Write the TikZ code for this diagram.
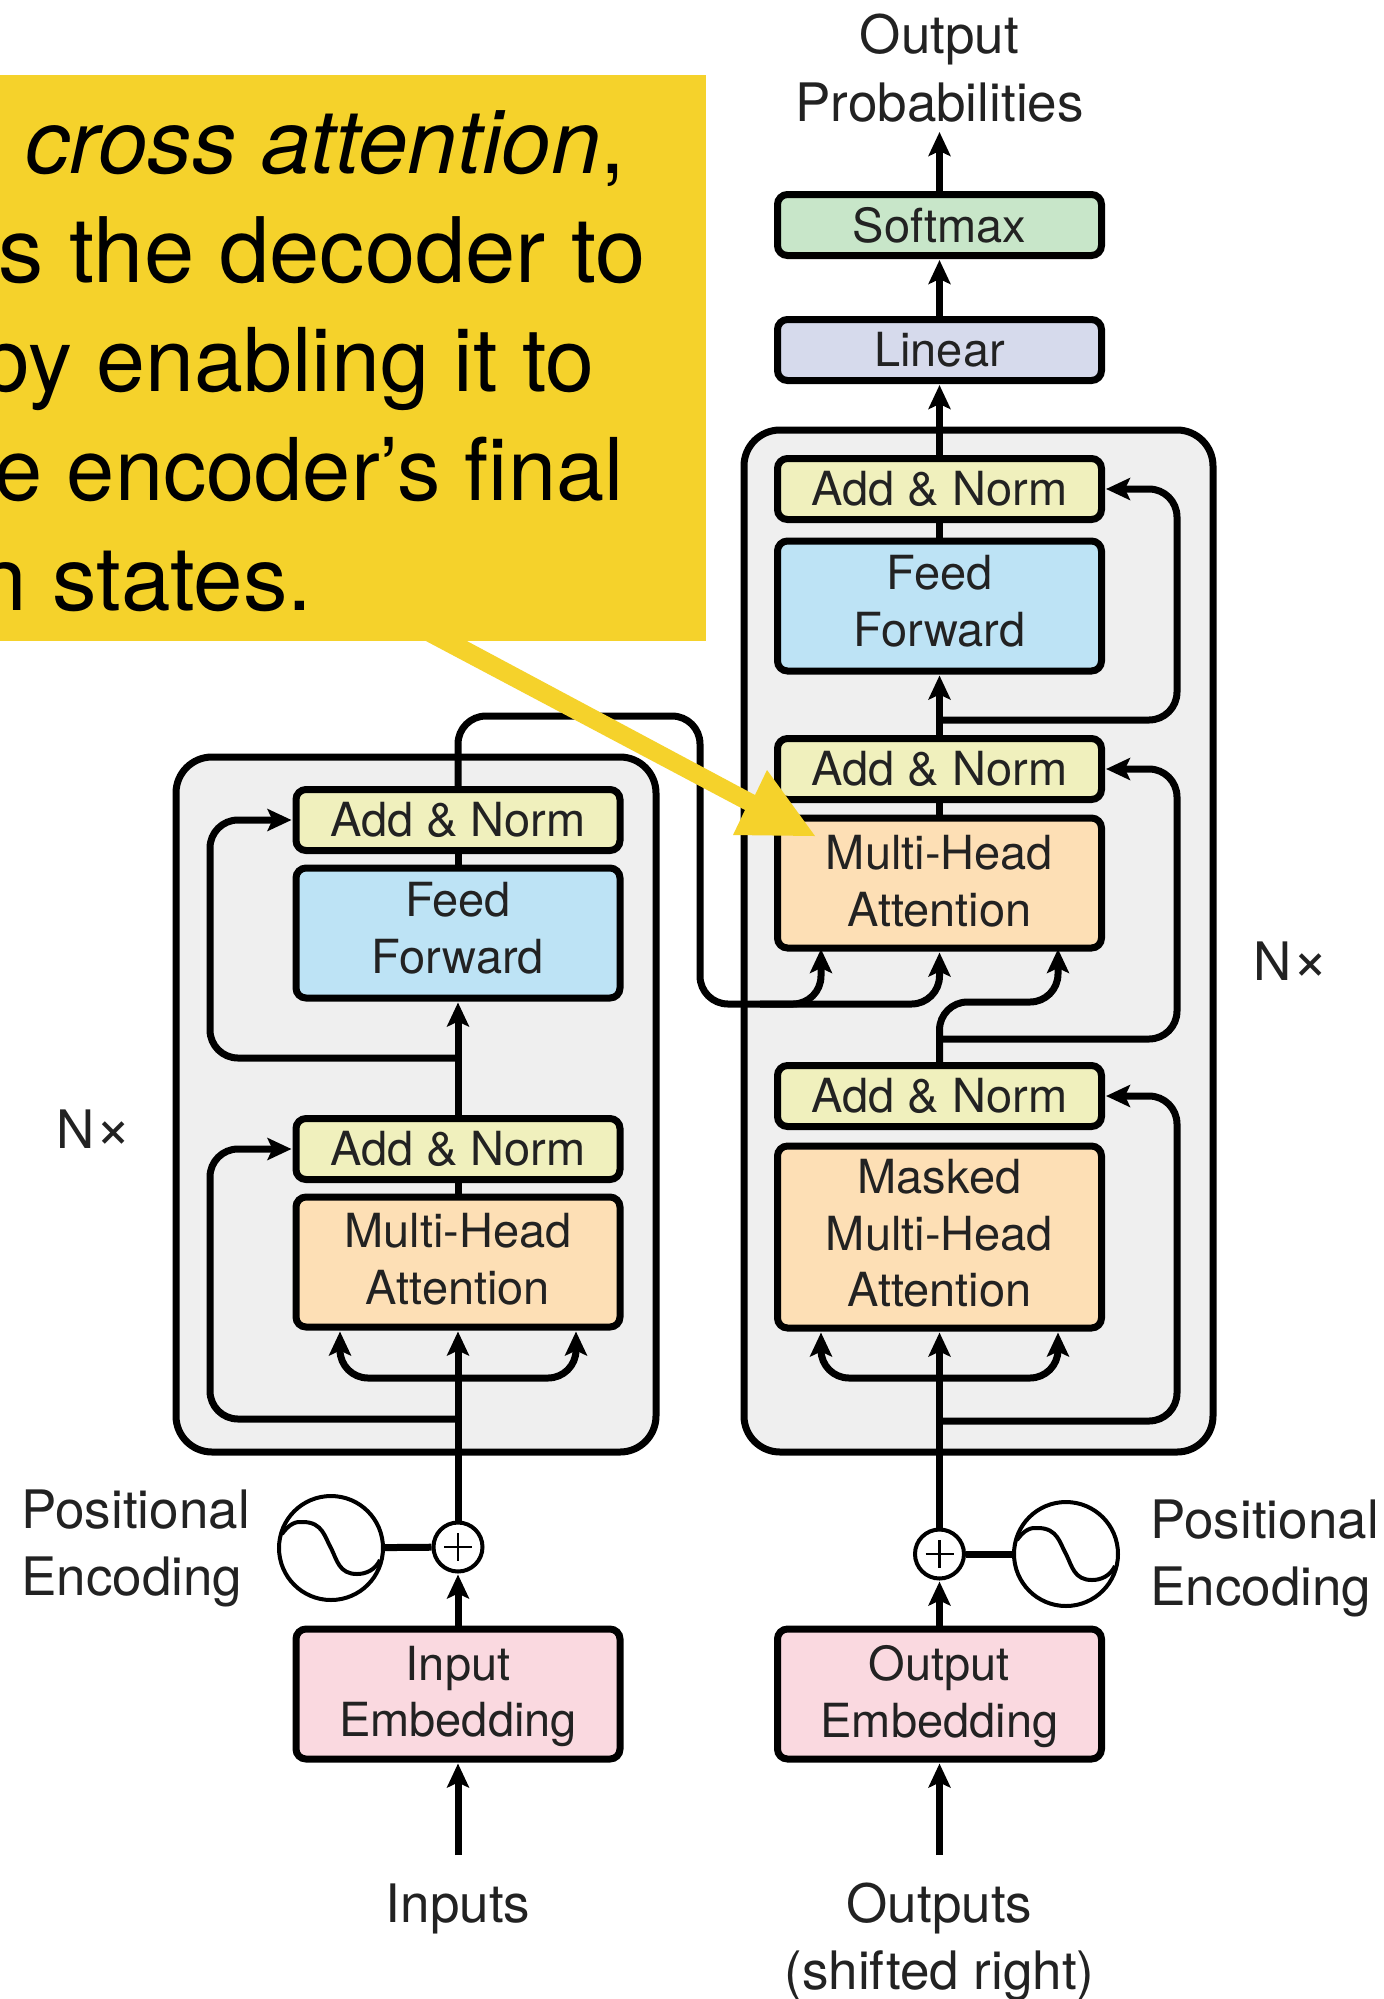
\documentclass[tikz,border=0pt]{standalone}
\usepackage{fontspec}
\setmainfont{TeX Gyre Heros}
\usetikzlibrary{arrows.meta, calc}
\definecolor{framegray}{HTML}{EFEFEF}
\definecolor{addgreen}{HTML}{F0F0BD}
\definecolor{feedblue}{HTML}{BDE3F5}
\definecolor{headorange}{HTML}{FDDFB5}
\definecolor{embedpink}{HTML}{FAD9E0}
\definecolor{softgreen}{HTML}{C8E6C9}
\definecolor{linearblue}{HTML}{D6DAEC}
\definecolor{calloutyellow}{HTML}{F5D22B}
\definecolor{labelgray}{HTML}{222222}
\tikzset{
  block/.style={draw=black, line width=3.5pt, rounded corners=5pt, minimum width=162pt, inner sep=0pt,
    align=center, text=labelgray, font=\fontsize{23.5}{28.3}\selectfont},
  thinblock/.style={block, minimum height=30.5pt},
  tallblock/.style={block, minimum height=65pt},
  frame/.style={draw=black, line width=3.5pt, rounded corners=18pt, fill=framegray},
  link/.style={line width=3.5pt, rounded corners=14pt},
  flow/.style={link, -{Stealth[length=12pt, width=11pt, inset=2.5pt]}, shorten >=0.5pt},
  caption/.style={align=center, inner sep=0pt, text=labelgray, font=\fontsize{26.5}{33.6}\selectfont},
  adder/.style={circle, draw=black, line width=2pt, fill=white, minimum size=24.5pt, inner sep=0pt,
    path picture={
      \draw [line width=1.4pt, shift={(path picture bounding box.center)}] (-14,0) -- (14,0) (0,-14) -- (0,14);
    }},
  wave/.style={circle, draw=black, line width=2pt, fill=white, minimum size=52pt, inner sep=0pt,
    path picture={
      \draw [line width=2pt, shift={(path picture bounding box.center)}] (-49,-14) .. controls (-42,-24) and (-35,-27) .. (-28,-26)
        .. controls (-8,-26) and (-6,-10) .. (0,0) .. controls (6,12) and (8,26) .. (26,26)
        .. controls (35,26) and (44,22) .. (49,12);
    }},
  calloutline/.style={anchor=base east, inner sep=0pt, text=black, font=\fontsize{44.5}{55}\selectfont}
}
\begin{document}
\begin{tikzpicture}[x=0.5pt, y=-0.5pt]
  \useasboundingbox [fill=white] (0, 0) rectangle (1383, 1999);

  \draw [frame] (176, 757) rectangle (656, 1452);
  \draw [frame] (744, 430) rectangle (1213, 1452);

  \foreach \name/\xc/\yc in {anLa/458/1149, anLb/458/820, anRa/939.5/1096, anRb/939.5/769, anRc/939.5/489}{
    \node [thinblock, fill=addgreen] (\name) at (\xc, \yc) {Add \& Norm};
  }
  \foreach \name/\xc/\yc in {ffL/458/933, ffR/939.5/606}{
    \node [tallblock, text depth=5.2pt, fill=feedblue] (\name) at (\xc, \yc) {Feed\\Forward};
  }
  \node [tallblock, text depth=3pt, fill=headorange] (mhaL) at (458, 1262) {Multi-Head\\Attention};
  \node [tallblock, text depth=2pt, fill=headorange] (mhaR) at (939.5, 883) {Multi-Head\\Attention};
  \node [block, text depth=4pt, minimum height=91pt, fill=headorange] (masked) at (939.5, 1237) {Masked\\Multi-Head\\Attention};
  \node [tallblock, text depth=2.5pt, fill=embedpink] (embL) at (458, 1694) {Input\\Embedding};
  \node [tallblock, text depth=2.5pt, fill=embedpink] (embR) at (939.5, 1694) {Output\\Embedding};
  \node [thinblock, fill=linearblue] (linear) at (939.5, 350) {Linear};
  \node [thinblock, fill=softgreen] (softmax) at (939.5, 225) {Softmax};

  \node [adder] (plusL) at (458, 1547) {};
  \node [adder] (plusR) at (939.5, 1554) {};
  \node [wave] (waveL) at (331, 1548) {};
  \node [wave] (waveR) at (1066, 1554) {};

  \node [caption] (outprob) at (939.5, 68) {Output\\Probabilities};
  \node [caption] (inputs) at (458, 1909) {Inputs};
  \node [caption] (outputs) at (939.5, 1942) {Outputs\\(shifted right)};
  \node [caption, align=left, anchor=west] (posL) at (21, 1548.5) {Positional\\Encoding};
  \node [caption, align=left, anchor=west] (posR) at (1150, 1558.5) {Positional\\Encoding};
  \node [caption] (timesL) at (94, 1129) {N{\fontsize{31}{33}\selectfont ×}};
  \node [caption] (timesR) at (1291, 961) {N{\fontsize{31}{33}\selectfont ×}};

  \coordinate (inputsTop) at (458, 1855);
  \coordinate (outputsTop) at (939.5, 1855);
  \coordinate (probsEnd) at (939.5, 131);
  \coordinate (railL) at (210, 1200);
  \coordinate (railR) at (1177, 1200);
  \coordinate (resLa) at (458, 1419);
  \coordinate (resLb) at (458, 1058);
  \coordinate (resRa) at (939.5, 1421);
  \coordinate (resRb) at (939.5, 1039);
  \coordinate (resRc) at (939.5, 720);
  \coordinate (splitL) at (458, 1378);
  \coordinate (splitR) at (939.5, 1378);
  \coordinate (crossTop) at (700, 716);
  \coordinate (crossLow) at (700, 1004);
  \coordinate (crossMid) at (760, 1004);
  \coordinate (bendR) at (1058, 1002);
  \coordinate (mhaRleft) at (821, 948);
  \coordinate (mhaRright) at (1058, 948);

  \draw [flow] (inputsTop) -- (embL);
  \draw [flow] (outputsTop) -- (embR);
  \draw [flow] (embL) -- (plusL);
  \draw [flow] (embR) -- (plusR);
  \draw [flow] (plusL) -- (mhaL);
  \draw [flow] (plusR) -- (masked);
  \draw [line width=3.5pt] (waveL) -- (plusL);
  \draw [line width=3.5pt] (waveR) -- (plusR);

  \foreach \s in {-1, 1}{
    \draw [flow] (splitL) -| ($(mhaL.south) + (\s*118, 0)$);
    \draw [flow] (splitR) -| ($(masked.south) + (\s*118.5, 0)$);
  }

  \foreach \from/\to in {resLa/anLa, resLb/anLb}{
    \draw [flow] (\from) -- (\from -| railL) |- (\to.west);
  }
  \foreach \from/\to in {resRa/anRa, resRb/anRb, resRc/anRc}{
    \draw [flow] (\from) -- (\from -| railR) |- (\to.east);
  }

  \draw [link] (mhaL) -- (anLa);
  \draw [link] (ffL) -- (anLb);
  \draw [link] (mhaR) -- (anRb);
  \draw [link] (ffR) -- (anRc);
  \draw [flow] (anLa) -- (ffL);
  \draw [flow] (anRb) -- (ffR);
  \draw [flow] (anRc) -- (linear);
  \draw [flow] (linear) -- (softmax);
  \draw [flow] (softmax) -- (probsEnd);

  \draw [flow] (anRa.north) |- (bendR) -- (mhaRright);
  \draw [flow] (anLb.north) |- (crossTop) -- (crossLow) -| (mhaR.south);
  \draw [flow] (crossMid) -| (mhaRleft);

  \node [fill=calloutyellow, minimum width=353pt, minimum height=283pt, inner sep=0pt, outer sep=0pt] (callout) at (353, 358) {};
  \node [calloutline] (lineA) at (626, 173) {\textit{cross attention},};
  \node [calloutline, font=\fontsize{45.2}{55}\selectfont] (lineB) at (646, 282) {s the decoder to};
  \node [calloutline, font=\fontsize{44}{55}\selectfont] (lineC) at (595, 391) {by enabling it to};
  \node [calloutline, font=\fontsize{43.3}{55}\selectfont] (lineD) at (624, 500) {e encoder’s final};
  \node [calloutline] (lineE) at (313, 610) {n states.};
  \fill [calloutyellow] (424, 640) -- (465, 640) -- (755, 795) -- (767, 770) -- (815, 836) -- (733, 835) -- (745, 810) -- cycle;
\end{tikzpicture}
\end{document}
